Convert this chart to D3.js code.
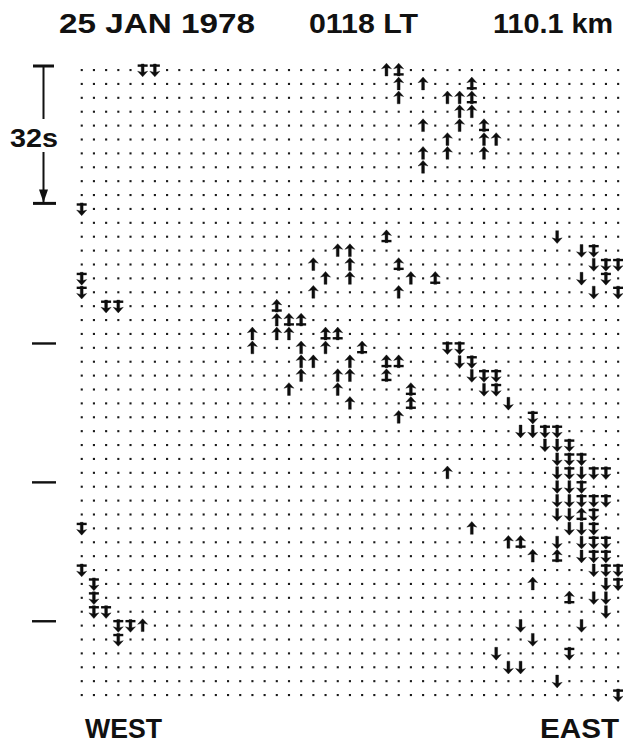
<!DOCTYPE html>
<html>
<head>
<meta charset="utf-8">
<script src="https://cdn.jsdelivr.net/npm/d3@7"></script>
<style>
  html, body { margin: 0; padding: 0; background: #fff; }
  svg { display: block; }
  text { font-family: "Liberation Sans", Arial, sans-serif; font-weight: bold; fill: #111; }
</style>
</head>
<body>
<svg id="chart" width="623" height="745"></svg>
<script>
// ---- Data ----
const titleParts = ["25 JAN 1978", "0118 LT", "110.1 km"];
const directionLabels = ["WEST", "EAST"];
const scaleLabel = "32s";
const scaleRows = [0, 10];          // 32 s between these rows
const tickRows = [20, 30, 40];
const nCols = 45;                   // columns 0..44
const nRows = 46;                   // rows 0..45

// [row, col] of each arrow kind
const upArrows = [
  [0,25],[1,26],[1,28],[2,26],[2,30],[2,31],[3,31],[3,32],[4,28],[4,31],
  [5,30],[5,33],[5,34],[6,28],[6,30],[6,33],[7,28],
  [13,21],[13,22],[14,19],[14,22],[15,20],[15,22],[15,27],[16,19],[16,26],
  [18,16],[19,14],[19,16],[19,17],[20,14],[20,18],[20,20],
  [21,18],[21,19],[21,22],[22,18],[22,21],[22,22],[23,17],[23,21],[24,22],
  [25,26],[29,30],[33,32],[34,35],[35,37],[37,37],[40,5]
];
const upBarArrows = [
  [0,26],[1,32],[2,32],[4,33],[12,25],[14,26],[15,29],[17,16],[18,17],[18,18],
  [19,20],[19,21],[20,23],[21,25],[21,26],[22,25],[23,27],[24,27],
  [32,41],[34,36],[35,39],[38,40]
];
const downArrows = [
  [12,39],[13,41],[14,42],[15,41],[16,42],[21,31],[22,32],[23,33],[24,35],
  [26,36],[26,37],[27,38],[27,39],[28,39],[29,39],[29,41],[30,39],[30,40],
  [31,39],[31,40],[32,39],[32,40],[33,40],[33,41],[34,39],[34,41],[35,41],
  [36,42],[37,43],[38,42],[38,43],[39,43],[40,36],[40,41],[41,37],[42,34],
  [43,35],[43,36],[44,39]
];
const downBarArrows = [
  [0,5],[0,6],[10,0],[13,42],[14,43],[14,44],[15,0],[15,43],[16,0],[16,44],
  [17,2],[17,3],[20,30],[20,31],[21,32],[22,33],[22,34],[23,34],[25,37],
  [26,38],[26,39],[27,40],[28,40],[28,41],[29,40],[29,42],[29,43],[30,41],
  [31,41],[31,42],[31,43],[32,42],[33,0],[33,42],[34,42],[34,43],[35,42],[35,43],
  [36,0],[36,43],[36,44],[37,1],[37,44],[38,1],[39,1],[39,2],[40,3],[40,4],
  [41,3],[42,40],[45,44]
];

// ---- Drawing ----
const svg = d3.select("#chart");
const x = d3.scaleLinear().domain([0, nCols - 1]).range([81.7, 618.1]);
const y = d3.scaleLinear().domain([0, nRows - 1]).range([70, 695]);

const arrows = [];
upArrows.forEach(([r, c]) => arrows.push({r, c, dir: 1, bar: false}));
upBarArrows.forEach(([r, c]) => arrows.push({r, c, dir: 1, bar: true}));
downArrows.forEach(([r, c]) => arrows.push({r, c, dir: -1, bar: false}));
downBarArrows.forEach(([r, c]) => arrows.push({r, c, dir: -1, bar: true}));
const occupied = new Set(arrows.map(a => a.r + "_" + a.c));

// grid dots
const dots = [];
for (let r = 0; r < nRows; r++)
  for (let c = 0; c < nCols; c++)
    if (!occupied.has(r + "_" + c)) dots.push({r, c});

svg.append("g").selectAll("rect").data(dots).join("rect")
  .attr("x", d => x(d.c) - 1)
  .attr("y", d => y(d.r) - 1)
  .attr("width", 2.1).attr("height", 2.1)
  .attr("fill", "#1a1a1a");

// arrow glyph (pointing up, centred at 0,0)
const arrowPath = "M0,-6.8 L5,-1.2 L1.4,-2.2 L1.4,6 L-1.4,6 L-1.4,-2.2 L-5,-1.2 Z";
const barPath = "M-5,3.2 L5,3.2 L5,5.6 L-5,5.6 Z";

const ag = svg.append("g").selectAll("g").data(arrows).join("g")
  .attr("transform", d => `translate(${x(d.c)},${y(d.r)}) scale(1,${d.dir})`);
ag.append("path").attr("d", arrowPath).attr("fill", "#0d0d0d")
  .attr("stroke", "#0d0d0d").attr("stroke-width", 0.4).attr("stroke-linejoin", "round");
ag.filter(d => d.bar).append("path").attr("d", barPath).attr("fill", "#0d0d0d");

// title
const titleX = [[59, 196], [309, 109], [493, 120]];
svg.append("g").selectAll("text").data(titleParts).join("text")
  .attr("x", (d, i) => titleX[i][0])
  .attr("y", 32.5)
  .attr("font-size", 28)
  .attr("textLength", (d, i) => titleX[i][1])
  .attr("lengthAdjust", "spacingAndGlyphs")
  .text(d => d);

// direction labels
const dirX = [[85, 77], [540, 79]];
svg.append("g").selectAll("text").data(directionLabels).join("text")
  .attr("x", (d, i) => dirX[i][0])
  .attr("y", 738)
  .attr("font-size", 28)
  .attr("textLength", (d, i) => dirX[i][1])
  .attr("lengthAdjust", "spacingAndGlyphs")
  .text(d => d);

// time scale bar
const sx = 43.5;
const yTop = y(scaleRows[0]) - 4;
const yBot = y(scaleRows[1]) - 5.5;
const sg = svg.append("g").attr("fill", "#111");
sg.append("rect").attr("x", 33).attr("y", yTop - 1.5).attr("width", 21).attr("height", 3);
sg.append("rect").attr("x", 33).attr("y", yBot - 1.5).attr("width", 23).attr("height", 3);
sg.append("rect").attr("x", sx - 1).attr("y", yTop).attr("width", 2).attr("height", 119 - yTop);
sg.append("rect").attr("x", sx - 1).attr("y", 152).attr("width", 2).attr("height", yBot - 152);
sg.append("path").attr("d", `M${sx - 4.5},${yBot - 14} L${sx + 4.5},${yBot - 14} L${sx},${yBot - 1} Z`);
svg.append("text").attr("x", 10).attr("y", 147).attr("font-size", 26)
  .attr("textLength", 48).attr("lengthAdjust", "spacingAndGlyphs").text(scaleLabel);

// 32 s ticks
svg.append("g").selectAll("rect").data(tickRows).join("rect")
  .attr("x", 32).attr("y", d => y(d) - 5.5).attr("width", 24).attr("height", 2.4)
  .attr("fill", "#111");
</script>
</body>
</html>
